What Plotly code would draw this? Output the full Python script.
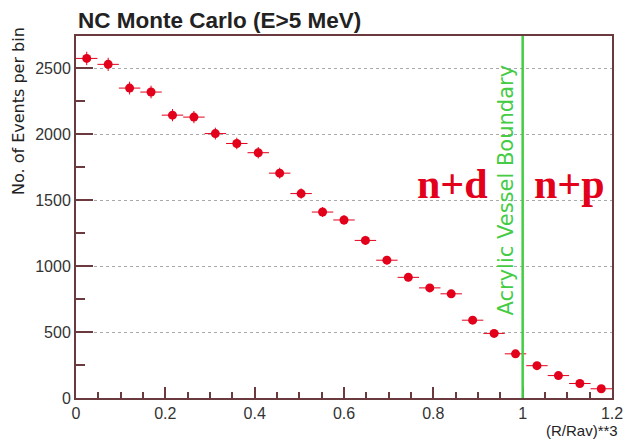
import plotly.graph_objects as go

bin_width = 0.048
x_centers = [round(bin_width * (i + 0.5), 4) for i in range(25)]
counts = [2575, 2530, 2350, 2320, 2145, 2130, 2005, 1930, 1860, 1705,
          1550, 1410, 1350, 1195, 1045, 915, 835, 790, 590, 490,
          335, 245, 170, 110, 70]
y_errors = [c ** 0.5 for c in counts]
x_errors = [bin_width / 2] * len(counts)

boundary_x = 1.0
title_text = "NC Monte Carlo (E>5 MeV)"
y_title = "No. of Events per bin"
x_title = "(R/Rav)**3"

frame = "#6a3a3e"
red = "#e3001b"
green = "#44cc44"

fig = go.Figure()
fig.add_trace(go.Scatter(
    x=x_centers, y=counts, mode="markers",
    marker=dict(color=red, size=9, symbol="circle"),
    error_x=dict(type="data", array=x_errors, color=red, thickness=1, width=0),
    error_y=dict(type="data", array=y_errors, color=red, thickness=1, width=0),
    showlegend=False, hoverinfo="skip",
))

fig.add_shape(type="line", xref="x", yref="paper", x0=boundary_x, x1=boundary_x,
              y0=0, y1=1, line=dict(color=green, width=2.5))

fig.update_layout(
    width=625, height=445,
    margin=dict(l=76, r=13, t=36, b=47, autoexpand=False),
    paper_bgcolor="white", plot_bgcolor="white",
    font=dict(family="Liberation Sans, Arial, sans-serif", color="#222"),
    xaxis=dict(range=[0, 1.2], dtick=0.2, tick0=0, ticks="inside", ticklen=11,
               tickcolor=frame, tickwidth=1.5,
               showgrid=False, zeroline=False, showline=True, linecolor=frame,
               linewidth=2, mirror=True, tickfont=dict(size=16, color="#333"),
               tickformat="~g",
               minor=dict(dtick=0.05, ticks="inside", ticklen=6, tickcolor=frame,
                          showgrid=False)),
    yaxis=dict(range=[0, 2745], dtick=500, tick0=0, ticks="inside", ticklen=17,
               tickcolor=frame, tickwidth=1.5,
               showgrid=True, gridcolor="#aaaaaa", griddash="dot", gridwidth=1,
               zeroline=False, showline=True, linecolor=frame, linewidth=2,
               mirror=True, tickfont=dict(size=16, color="#333"),
               minor=dict(dtick=250, ticks="inside", ticklen=9, tickcolor=frame,
                          showgrid=False)),
)

fig.add_annotation(text="<b>" + title_text + "</b>", xref="paper", yref="paper",
                   x=0, y=1, xanchor="left", yanchor="middle", yshift=16, showarrow=False,
                   font=dict(size=22.5, color="#222", family="Liberation Sans, Arial, sans-serif"))
fig.add_annotation(text=y_title, xref="paper", yref="paper", x=0, y=1,
                   xanchor="center", yanchor="top", xshift=-58, yshift=11, textangle=-90,
                   showarrow=False,
                   font=dict(size=16, color="#222", family="DejaVu Sans, sans-serif"))
fig.add_annotation(text=x_title, xref="paper", yref="paper", x=1, y=0,
                   xanchor="right", yanchor="middle", xshift=8, yshift=-32,
                   showarrow=False, font=dict(size=15, color="#222"))
fig.add_annotation(text="Acrylic Vessel Boundary", xref="x", yref="paper",
                   x=boundary_x, y=0.575, xanchor="right", yanchor="middle", xshift=-3,
                   textangle=-90, showarrow=False,
                   font=dict(size=21, color=green, family="DejaVu Sans, sans-serif"))
fig.add_annotation(text="<b>n+d</b>", xref="x", yref="y", x=0.843, y=1625,
                   showarrow=False,
                   font=dict(size=42, color=red, family="Liberation Serif, Times New Roman, serif"))
fig.add_annotation(text="<b>n+p</b>", xref="x", yref="y", x=1.105, y=1625,
                   showarrow=False,
                   font=dict(size=42, color=red, family="Liberation Serif, Times New Roman, serif"))

fig.write_html("out.html")
